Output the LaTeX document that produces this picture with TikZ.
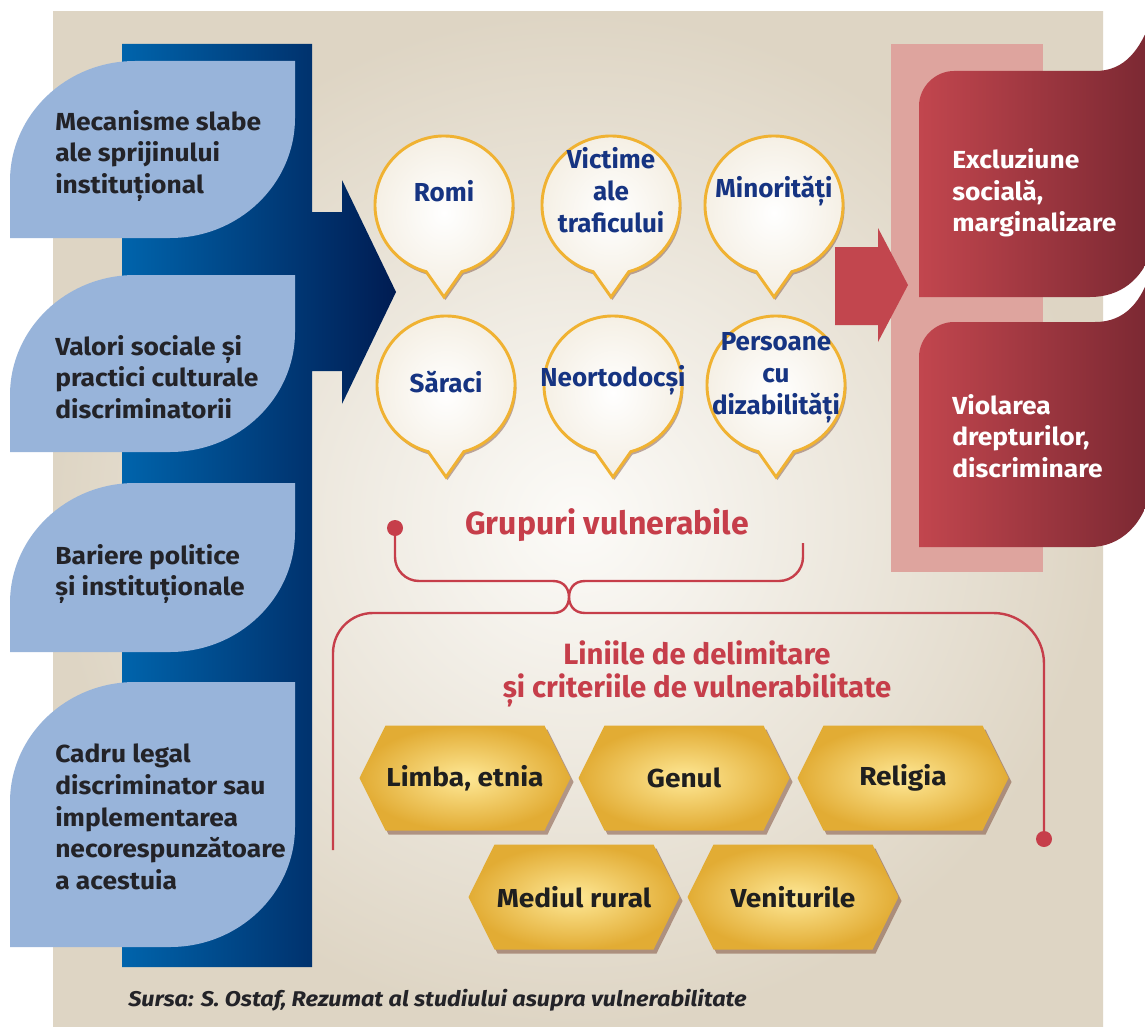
\documentclass[tikz,border=0pt]{standalone}
\usepackage{fontspec}
\setmainfont{Fira Sans}
\newfontfamily\widefont[FakeStretch=1.07]{Fira Sans}
\newfontfamily\hexfont[FakeStretch=1.08]{Fira Sans}
\newfontfamily\srcfont[FakeStretch=1.1]{Fira Sans}
\usetikzlibrary{calc}
\definecolor{bgin}{RGB}{252,251,248}
\definecolor{bgout}{RGB}{222,213,196}
\definecolor{blueL}{RGB}{0,100,172}
\definecolor{blueR}{RGB}{0,28,82}
\definecolor{leafblue}{RGB}{152,180,218}
\definecolor{pinkc}{RGB}{222,164,158}
\definecolor{redL}{RGB}{194,70,78}
\definecolor{redR}{RGB}{122,40,50}
\definecolor{redtxt}{RGB}{198,62,74}
\definecolor{goldc}{RGB}{240,178,50}
\definecolor{bubtxt}{RGB}{22,52,130}
\definecolor{bubout}{RGB}{244,238,226}
\definecolor{hexin}{RGB}{254,232,150}
\definecolor{hexout}{RGB}{226,172,52}
\definecolor{shbrown}{RGB}{120,70,50}
\definecolor{txtdark}{RGB}{35,35,40}
\newcommand\leafbox[2]{\fill[leafblue] (10,#2) -- (10,#1+120) .. controls (10,#1+54) and (66,#1) .. (135,#1) -- (295,#1) -- (295,#2-120) .. controls (295,#2-54) and (239,#2) .. (170,#2) -- cycle;}
\newcommand\bubble[5]{%
  \fill[shbrown,opacity=0.45] ($(#1,#2)+(1.5,3)$) ++(105:69) arc[start angle=105,end angle=435,radius=69] -- ($(#1,#2)+(1.5,95)$) -- cycle;
  \shadedraw[inner color=white,outer color=bubout,draw=goldc,line width=2.2pt] (#1,#2) ++(105:69) arc[start angle=105,end angle=435,radius=69] -- ($(#1,#2)+(0,92)$) -- cycle;
  \node[bubtext] (#3) at (#1,#5) {#4};}
\newcommand\hexa[4]{%
  \fill[shbrown,opacity=0.5] ($(#1,#2)+(3,4)$) ++(-105.5,0) -- ++(26,-52.5) -- ++(159,0) -- ++(26,52.5) -- ++(-26,52.5) -- ++(-159,0) -- cycle;
  \shade[inner color=hexin,outer color=hexout] (#1,#2) ++(-105.5,0) -- ++(26,-52.5) -- ++(159,0) -- ++(26,52.5) -- ++(-26,52.5) -- ++(-159,0) -- cycle;
  \node[hextext] (#3) at (#1,#2) {#4};}
\begin{document}
\begin{tikzpicture}[x=0.75pt,y=-0.75pt,
  lefttext/.style={anchor=west,inner sep=0pt,align=left,text=txtdark,font=\widefont\bfseries\fontsize{18.5}{23.8}\selectfont},
  redboxtext/.style={anchor=west,inner sep=0pt,align=left,text=white,font=\widefont\bfseries\fontsize{18.5}{23.8}\selectfont},
  bubtext/.style={inner sep=0pt,align=center,text=bubtxt,font=\bfseries\fontsize{19.5}{24}\selectfont},
  hextext/.style={inner sep=0pt,text=black!88,font=\hexfont\bfseries\fontsize{19.5}{24}\selectfont},
  headtext/.style={inner sep=0pt,align=center,text=redtxt,font=\bfseries\fontsize{22}{24.5}\selectfont},
  braceline/.style={draw=redtxt,line width=1.8pt}]
\useasboundingbox (0,0) rectangle (1145,1027);
\fill[white] (0,0) rectangle (1145,1027);
\shade[inner color=bgin,outer color=bgout] (53,12) rectangle (1103,1027);
% blue bar and arrow
\shade[left color=blueL,right color=blueR] (122,44) -- (312,44) -- (312,212) -- (342,212) -- (342,180) -- (396,292) -- (342,404) -- (342,371) -- (312,371) -- (312,967) -- (122,967) -- cycle;
% leaf boxes
\leafbox{61}{238}
\leafbox{275}{452}
\leafbox{483}{652}
\leafbox{682}{947}
\node[lefttext] (c1) at (55,156) {Mecanisme slabe\\ale sprijinului\\instituțional};
\node[lefttext] (c2) at (55,377) {Valori sociale și\\practici culturale\\discriminatorii};
\node[lefttext] (c3) at (55,574) {Bariere politice\\și instituționale};
\node[lefttext] (c4) at (55,817) {Cadru legal\\discriminator sau\\implementarea\\necorespunzătoare\\a acestuia};
% pink band and red arrow
\fill[pinkc] (891,44) rectangle (1043,572);
\fill[redL] (835,247) -- (878,247) -- (878,228) -- (908,285) -- (878,342) -- (878,325) -- (835,325) -- cycle;
% red boxes
\shade[left color=redL,right color=redR] (919,297) -- (919,106) .. controls (919,87) and (935,71) .. (954,71) -- (1095,71) .. controls (1125,71) and (1140,50) .. (1152,18) -- (1152,250) .. controls (1142,280) and (1120,297) .. (1090,297) -- cycle;
\shade[left color=redL,right color=redR] (919,547) -- (919,357) .. controls (919,338) and (935,322) .. (954,322) -- (1095,322) .. controls (1125,322) and (1142,302) .. (1152,268) -- (1152,485) .. controls (1145,525) and (1120,547) .. (1090,547) -- cycle;
\node[redboxtext] (e1) at (952,193) {Excluziune\\socială,\\marginalizare};
\node[redboxtext] (e2) at (952,436) {Violarea\\drepturilor,\\discriminare};
% braces
\coordinate (dl) at (395,528);
\coordinate (ar) at (803,543);
\coordinate (jn) at (569,597);
\coordinate (lb) at (333,850);
\coordinate (dr) at (1044,839);
\draw[braceline,rounded corners=18] (dl) -- (395,581) -- (553,581);
\draw[braceline] (553,581) .. controls (565,581) and (569,590) .. (jn) .. controls (569,604) and (565,613) .. (553,613);
\draw[braceline,rounded corners=30] (553,613) -- (333,613) -- (lb);
\draw[braceline,rounded corners=18] (ar) -- (803,581) -- (585,581);
\draw[braceline] (585,581) .. controls (573,581) and (569,590) .. (jn) .. controls (569,604) and (573,613) .. (585,613);
\draw[braceline,rounded corners=38] (585,613) -- (1044,613) -- (dr);
\fill[redtxt] (dl) circle[radius=8];
\fill[redtxt] (dr) circle[radius=8];
\node[headtext,font=\bfseries\fontsize{24}{26}\selectfont] (grp) at (607,525) {Grupuri vulnerabile};
\node[headtext] (lin) at (697,674) {Liniile de delimitare\\și criteriile de vulnerabilitate};
% bubbles
\bubble{444}{205}{rom}{Romi}{191}
\bubble{611}{205}{vic}{Victime\\ale\\traficului}{190}
\bubble{774}{205}{mnr}{Minorități}{191}
\bubble{446}{385}{sar}{Săraci}{382}
\bubble{613}{385}{neo}{Neortodocși}{380}
\bubble{776}{385}{per}{Persoane\\cu\\dizabilități}{378}
% hexagons
\hexa{465}{778}{lim}{Limba, etnia}
\hexa{684}{778}{gen}{Genul}
\hexa{903}{778}{rel}{Religia}
\hexa{574}{897}{med}{Mediul rural}
\hexa{793}{897}{ven}{Veniturile}
% source
\node[anchor=west,inner sep=0pt,text=txtdark,font=\srcfont\bfseries\itshape\fontsize{16}{18}\selectfont] (src) at (128,1000) {Sursa: S. Ostaf, Rezumat al studiului asupra vulnerabilitate};
\end{tikzpicture}
\end{document}
